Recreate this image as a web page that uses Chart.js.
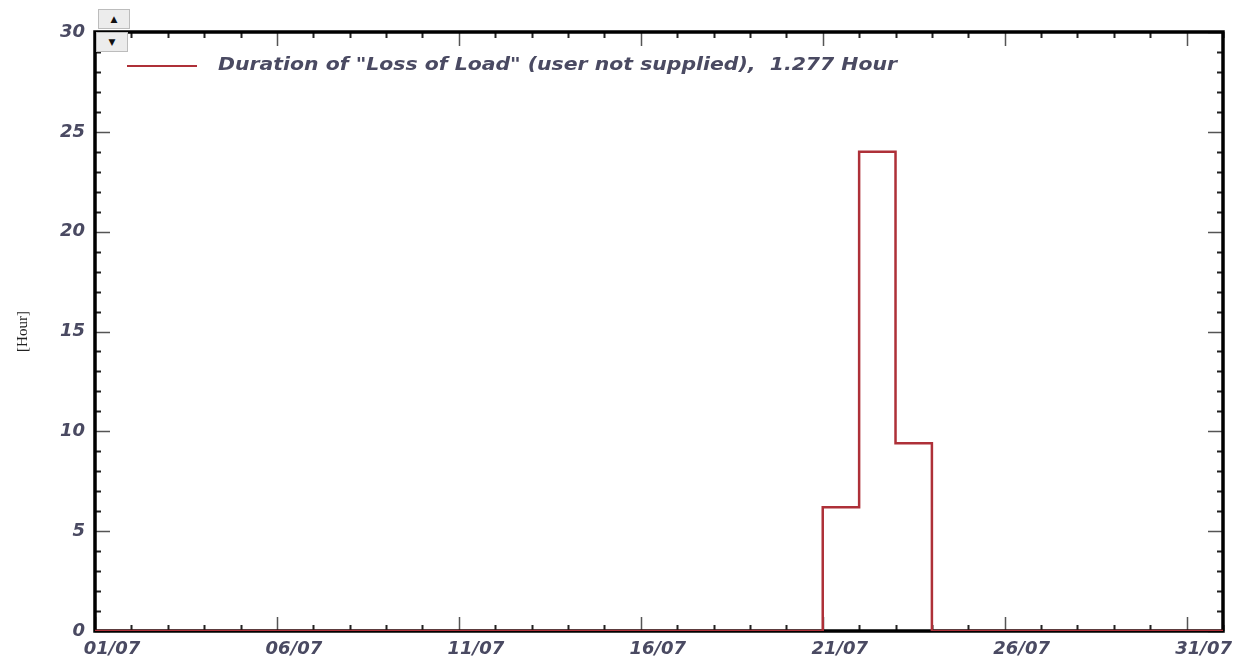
<!DOCTYPE html>
<html>
<head>
<meta charset="utf-8">
<script src="https://cdn.jsdelivr.net/npm/chart.js@4.4.1/dist/chart.umd.min.js"></script>
<style>
  body { margin: 0; background: #fff; }
  #wrap { position: relative; width: 1245px; height: 660px; }
  .btn {
    position: absolute; width: 32px; height: 20px; box-sizing: border-box;
    background: #ececec; border: 1px solid #bcbcbc;
    font: 9px "DejaVu Sans"; line-height: 18px; text-align: center; color: #111;
  }
</style>
</head>
<body>
<div id="wrap">
  <canvas id="grafico" width="1245" height="660"></canvas>
  <div class="btn" style="left:98px; top:9px;">▲</div>
  <div class="btn" style="left:96px; top:32px;">▼</div>
</div>
<script>
// Datos: un valor por día (julio)
const dias = ['01/07','02/07','03/07','04/07','05/07','06/07','07/07','08/07','09/07','10/07',
              '11/07','12/07','13/07','14/07','15/07','16/07','17/07','18/07','19/07','20/07',
              '21/07','22/07','23/07','24/07','25/07','26/07','27/07','28/07','29/07','30/07','31/07'];
const horasPerdida = [0,0,0,0,0,0,0,0,0,0,
                      0,0,0,0,0,0,0,0,0,0,
                      6.2,24,9.4,0,0,0,0,0,0,0,0];
const etiquetaSerie = 'Duration of "Loss of Load" (user not supplied),  1.277 Hour';
const tituloY = '[Hour]';

const colorLinea = '#ae3038';
const colorTexto = '#4a4a62';

// puntos escalonados: cada día ocupa de su inicio al siguiente
const puntos = dias.map((d, i) => ({ x: i, y: horasPerdida[i] }));
puntos.push({ x: dias.length, y: horasPerdida[horasPerdida.length - 1] });

// Marco y marcas hacia dentro, más la leyenda dentro del área
const marcoPlugin = {
  id: 'marco',
  beforeDatasetsDraw(chart) {
    const { ctx, chartArea: a, scales } = chart;
    ctx.save();
    // marcas del eje x (arriba y abajo)
    for (let d = 0; d <= dias.length; d++) {
      const px = Math.round(scales.x.getPixelForValue(d)) + 0.5;
      const mayor = d % 5 === 0;
      const largo = mayor ? 14 : 6;
      ctx.strokeStyle = mayor ? '#555' : '#222';
      ctx.lineWidth = mayor ? 1.5 : 2;
      ctx.beginPath();
      ctx.moveTo(px, a.bottom); ctx.lineTo(px, a.bottom - largo);
      ctx.moveTo(px, a.top); ctx.lineTo(px, a.top + largo);
      ctx.stroke();
    }
    // marcas del eje y (izquierda y derecha)
    for (let v = 0; v <= 30; v++) {
      const py = Math.round(scales.y.getPixelForValue(v)) + 0.5;
      const mayor = v % 5 === 0;
      const largo = mayor ? 15 : 6;
      ctx.strokeStyle = mayor ? '#555' : '#222';
      ctx.lineWidth = mayor ? 1.5 : 2;
      ctx.beginPath();
      ctx.moveTo(a.left, py); ctx.lineTo(a.left + largo, py);
      ctx.moveTo(a.right, py); ctx.lineTo(a.right - largo, py);
      ctx.stroke();
    }
    // marco negro
    ctx.strokeStyle = '#000';
    ctx.lineWidth = 3.5;
    ctx.strokeRect(a.left, a.top, a.right - a.left, a.bottom - a.top);

    // leyenda (texto estirado a lo ancho como en el original)
    const ds = chart.data.datasets[0];
    const ly = a.top + 34;
    ctx.strokeStyle = ds.borderColor;
    ctx.lineWidth = 2;
    ctx.beginPath();
    ctx.moveTo(a.left + 32, ly); ctx.lineTo(a.left + 102, ly);
    ctx.stroke();
    ctx.fillStyle = colorTexto;
    ctx.font = 'italic bold 17px "DejaVu Sans"';
    ctx.textBaseline = 'middle';
    ctx.textAlign = 'left';
    const ancho = ctx.measureText(ds.label).width;
    ctx.translate(a.left + 123, ly);
    ctx.scale(679 / ancho, 1);
    ctx.fillText(ds.label, 0, 0);
    ctx.restore();
  }
};

const ctx = document.getElementById('grafico').getContext('2d');
const grafico = new Chart(ctx, {
  type: 'line',
  data: {
    datasets: [{
      label: etiquetaSerie,
      data: puntos,
      stepped: 'before',
      borderColor: colorLinea,
      borderWidth: 2.5,
      pointRadius: 0,
      fill: false
    }]
  },
  options: {
    responsive: false,
    animation: false,
    layout: { padding: { top: 32, right: 22, left: 0, bottom: 0 } },
    plugins: {
      legend: { display: false },
      tooltip: { enabled: false }
    },
    scales: {
      x: {
        type: 'linear',
        min: 0,
        max: dias.length,
        grid: { display: false, drawTicks: false },
        border: { display: false },
        ticks: {
          stepSize: 1,
          autoSkip: false,
          maxRotation: 0,
          padding: 8,
          labelOffset: 17,
          color: colorTexto,
          font: { family: 'DejaVu Sans', size: 18, style: 'italic', weight: 'bold' },
          callback: (v) => (v % 5 === 0 && v < dias.length) ? dias[v] : ''
        },
        afterFit: (s) => { s.height = 29; }
      },
      y: {
        min: 0,
        max: 30,
        grid: { display: false, drawTicks: false },
        border: { display: false },
        ticks: {
          stepSize: 5,
          padding: 10,
          color: colorTexto,
          font: { family: 'DejaVu Sans', size: 18, style: 'italic', weight: 'bold' }
        },
        title: {
          display: true,
          text: tituloY,
          color: '#222',
          padding: { top: 14, bottom: 0 },
          font: { family: 'Liberation Serif', size: 15 }
        },
        afterFit: (s) => { s.width = 95; }
      }
    }
  },
  plugins: [marcoPlugin]
});
</script>
</body>
</html>
